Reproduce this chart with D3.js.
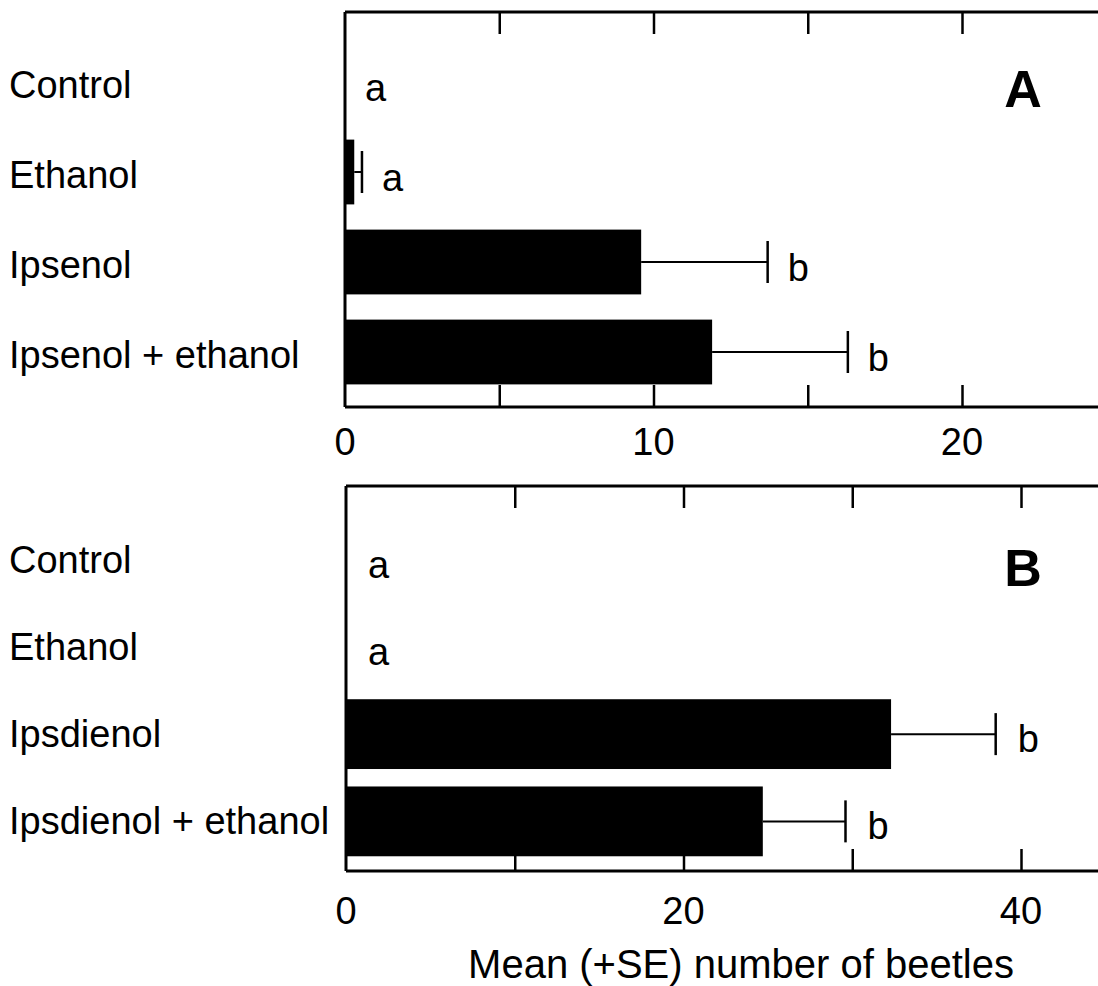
<!DOCTYPE html>
<html>
<head>
<meta charset="utf-8">
<script src="https://cdn.jsdelivr.net/npm/d3@7"></script>
<style>
  html, body { margin: 0; padding: 0; background: #fff; }
  svg { display: block; }
  text { font-family: "Liberation Sans", Arial, Helvetica, sans-serif; fill: #000; }
</style>
</head>
<body>
<svg id="chart" width="1098" height="986"></svg>
<script>
// Panel A: ipsenol trial
const categoriesA = ["Control", "Ethanol", "Ipsenol", "Ipsenol + ethanol"];
const meansA = [0, 0.3, 9.6, 11.9];
const seA = [0, 0.25, 4.1, 4.4];
const lettersA = ["a", "a", "b", "b"];
const tickValuesA = [5, 10, 15, 20];
const tickLabelsA = [0, 10, 20];

// Panel B: ipsdienol trial
const categoriesB = ["Control", "Ethanol", "Ipsdienol", "Ipsdienol + ethanol"];
const meansB = [0, 0, 32.3, 24.7];
const seB = [0, 0, 6.2, 4.9];
const lettersB = ["a", "a", "b", "b"];
const tickValuesB = [10, 20, 30, 40];
const tickLabelsB = [0, 20, 40];

const xTitle = "Mean (+SE) number of beetles";

const W = 1098;
const svg = d3.select("#chart");

function drawPanel(opt) {
  const g = svg.append("g");
  const x = d3.scaleLinear().domain(opt.xDomain).range(opt.xRange);
  const y = d3.scaleBand()
    .domain(opt.categories)
    .range(opt.bandRange)
    .paddingInner(opt.padInner)
    .paddingOuter(opt.padInner / 2);

  const rows = opt.categories.map((c, i) => ({
    cat: c, mean: opt.means[i], se: opt.se[i], letter: opt.letters[i]
  }));
  const mid = d => y(d.cat) + y.bandwidth() / 2;

  // bars
  g.selectAll("rect.bar").data(rows.filter(d => d.mean > 0)).join("rect")
    .attr("class", "bar")
    .attr("x", x(0))
    .attr("y", d => y(d.cat))
    .attr("width", d => x(d.mean) - x(0))
    .attr("height", y.bandwidth())
    .attr("fill", "#000");

  // error bars (+SE only)
  const eb = rows.filter(d => d.se > 0);
  g.selectAll("line.err").data(eb).join("line")
    .attr("x1", d => x(d.mean)).attr("x2", d => x(d.mean + d.se))
    .attr("y1", mid).attr("y2", mid)
    .attr("stroke", "#000").attr("stroke-width", 2);
  g.selectAll("line.cap").data(eb).join("line")
    .attr("x1", d => x(d.mean + d.se)).attr("x2", d => x(d.mean + d.se))
    .attr("y1", d => mid(d) - opt.capHalf)
    .attr("y2", d => mid(d) + opt.capHalf)
    .attr("stroke", "#000").attr("stroke-width", 2.5);

  // significance letters
  g.selectAll("text.letter").data(rows).join("text")
    .attr("class", "letter")
    .attr("x", d => x(d.mean + d.se) + opt.letterGap)
    .attr("y", d => mid(d) + opt.letterDy)
    .attr("dominant-baseline", "middle")
    .attr("font-size", 38)
    .text(d => d.letter);

  // category labels
  g.selectAll("text.cat").data(rows).join("text")
    .attr("class", "cat")
    .attr("x", 9)
    .attr("y", d => mid(d) + opt.labelDy)
    .attr("dominant-baseline", "middle")
    .attr("font-size", 38)
    .text(d => d.cat);

  // bottom axis with inward ticks
  const bottom = g.append("g").attr("transform", `translate(0,${opt.bottom})`);
  bottom.call(d3.axisBottom(x).tickValues(opt.tickValues).tickSize(-22).tickFormat(""))
    .call(a => a.select(".domain").remove());
  bottom.selectAll(".tick line").attr("stroke", "#000").attr("stroke-width", 2.5);
  bottom.append("line").attr("x1", x(0)).attr("x2", W)
    .attr("stroke", "#000").attr("stroke-width", 3);
  bottom.selectAll("text.tl").data(opt.tickLabels).join("text")
    .attr("class", "tl")
    .attr("x", d => x(d)).attr("y", opt.tickLabelDy)
    .attr("text-anchor", "middle")
    .attr("dominant-baseline", "middle")
    .attr("font-size", 38)
    .text(d => d);

  // top frame with inward ticks
  const top = g.append("g").attr("transform", `translate(0,${opt.top})`);
  top.call(d3.axisTop(x).tickValues(opt.tickValues).tickSize(-22).tickFormat(""))
    .call(a => a.select(".domain").remove());
  top.selectAll(".tick line").attr("stroke", "#000").attr("stroke-width", 2.5);
  top.append("line").attr("x1", x(0)).attr("x2", W)
    .attr("stroke", "#000").attr("stroke-width", 3);

  // left frame
  g.append("line")
    .attr("x1", x(0)).attr("x2", x(0))
    .attr("y1", opt.top).attr("y2", opt.bottom)
    .attr("stroke", "#000").attr("stroke-width", 3);

  // panel letter
  g.append("text")
    .attr("x", opt.tagX).attr("y", opt.tagY)
    .attr("text-anchor", "middle")
    .attr("dominant-baseline", "middle")
    .attr("font-size", 52).attr("font-weight", "bold")
    .text(opt.tag);

  return x;
}

drawPanel({
  categories: categoriesA, means: meansA, se: seA, letters: lettersA,
  tickValues: tickValuesA, tickLabels: tickLabelsA,
  xDomain: [0, 20], xRange: [345, 962],
  bandRange: [37, 397], padInner: 0.28,
  top: 12, bottom: 407, capHalf: 21, letterGap: 20, letterDy: 9, labelDy: 6,
  tickLabelDy: 38,
  tag: "A", tagX: 1023, tagY: 93
});

drawPanel({
  categories: categoriesB, means: meansB, se: seB, letters: lettersB,
  tickValues: tickValuesB, tickLabels: tickLabelsB,
  xDomain: [0, 40], xRange: [346, 1021],
  bandRange: [516, 865], padInner: 0.2,
  top: 486, bottom: 871, capHalf: 21, letterGap: 22, letterDy: 8, labelDy: 3,
  tickLabelDy: 43,
  tag: "B", tagX: 1023, tagY: 572
});

svg.append("text")
  .attr("x", 741).attr("y", 967)
  .attr("text-anchor", "middle")
  .attr("dominant-baseline", "middle")
  .attr("font-size", 40)
  .text(xTitle);
</script>
</body>
</html>
